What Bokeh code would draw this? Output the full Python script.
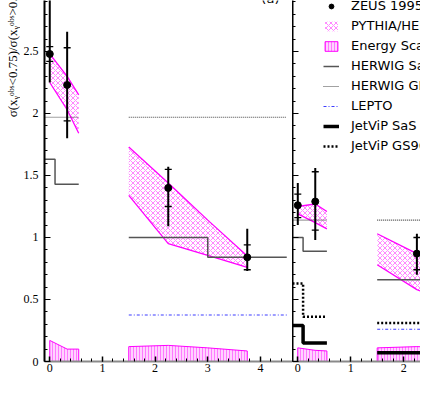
from bokeh.plotting import figure
from bokeh.layouts import row
from bokeh.models import Range1d, FixedTicker, Legend, LegendItem, Label
from bokeh.embed import file_html
from bokeh.resources import INLINE

# ---------------- data ----------------
x_ticks_a = [0, 1, 2, 3, 4]
x_tick_labels_a = ["0", "1", "2", "3", "4"]
x_ticks_b = [0, 1, 2]
x_tick_labels_b = ["0", "1", "2"]
y_ticks = [0, 0.5, 1, 1.5, 2, 2.5]
y_tick_labels = ["0", "0.5", "1", "1.5", "2", "2.5"]
y_title = "σ(xᵧᵒᵇˢ<0.75)/σ(xᵧᵒᵇˢ>0.75)"

# ZEUS 1995 points, panel (a)
zeus_x_a = [0.0, 0.33, 2.25, 3.75]
zeus_y_a = [2.48, 2.23, 1.40, 0.84]
zeus_stat_lo_a = [2.42, 1.94, 1.25, 0.74]
zeus_stat_hi_a = [2.54, 2.53, 1.55, 0.94]
zeus_tot_lo_a = [2.25, 1.80, 1.09, 0.73]
zeus_tot_hi_a = [3.20, 2.66, 1.57, 1.07]

# ZEUS 1995 points, panel (b)
zeus_x_b = [0.0, 0.33, 2.25]
zeus_y_b = [1.26, 1.29, 0.87]
zeus_stat_lo_b = [1.16, 1.06, 0.74]
zeus_stat_hi_b = [1.35, 1.53, 1.00]
zeus_tot_lo_b = [1.10, 0.98, 0.70]
zeus_tot_hi_b = [1.44, 1.56, 1.03]

# band abscissae
band_x1 = [0.0, 0.33, 0.55]
band_x2 = [1.5, 2.25, 3.0, 3.75]

# PYTHIA/HERWIG band
pythia_lo_a1 = [2.25, 2.03, 1.84]
pythia_hi_a1 = [2.48, 2.30, 2.15]
pythia_lo_a2 = [1.34, 0.95, 0.855, 0.76]
pythia_hi_a2 = [1.73, 1.44, 1.14, 0.85]
pythia_lo_b1 = [1.19, 1.12, 1.07]
pythia_hi_b1 = [1.25, 1.27, 1.21]
pythia_lo_b2 = [0.78, 0.58, 0.45, 0.35]
pythia_hi_b2 = [1.03, 0.87, 0.75, 0.65]

# energy scale uncertainty band
escale_a1 = [0.17, 0.10, 0.10]
escale_a2 = [0.12, 0.13, 0.11, 0.085]
escale_b1 = [0.11, 0.09, 0.085]
escale_b2 = [0.11, 0.12, 0.11, 0.10]

# histogram bin edges
bins1 = [-0.1, 0.1, 0.55]
bins2 = [1.5, 3.0, 4.5]

herwig_sas_a1 = [1.63, 1.43]
herwig_sas_a2 = [1.00, 0.84]
herwig_grv_a1 = [1.97, 1.97]
herwig_grv_a2 = [1.97, 1.97]
lepto_a2 = [0.375, 0.375]

herwig_sas_b1 = [1.00, 0.89]
herwig_sas_b2 = [0.66, 0.66]
herwig_grv_b1 = [1.14, 1.14]
herwig_grv_b2 = [1.14, 1.14]
lepto_b2 = [0.26, 0.26]
jetvip_sas_b1 = [0.29, 0.15]
jetvip_sas_b2 = [0.07, 0.07]
jetvip_gs96_b1 = [0.63, 0.36]
jetvip_gs96_b2 = [0.31, 0.31]

legend_labels = ["ZEUS 1995", "PYTHIA/HERWIG", "Energy Scale", "HERWIG SaS",
                 "HERWIG GRV", "LEPTO", "JetViP SaS", "JetViP GS96"]

# ---------------- layout ----------------
W_TOTAL = 420
H = 392
SX = W_TOTAL / 436.0
SY = H / 409.0
FRAME_H = round(377 * SY)
BOTTOM = H - FRAME_H
W_LAB = 20
LEFT_BORDER = round(44 * SX) - W_LAB
W1 = round(303 * SX) - W_LAB
W2 = W_TOTAL - W1 - W_LAB
Y_TOP = 377 / 129.5
XA_END = -0.1 + 259 / 55.0
XB_END = -0.1 + 133 / 55.0

SERIF = "Liberation Serif"
SANS = "DejaVu Sans"

MAG = "#ff00ff"


def make_fig(width, x_end, left_border, xt, xtl, show_ylabels):
    p = figure(width=width, height=H, x_range=Range1d(-0.1, x_end),
               y_range=Range1d(0, Y_TOP), output_backend="svg",
               toolbar_location=None, min_border_left=left_border,
               min_border_right=0, min_border_top=0, min_border_bottom=BOTTOM)
    p.grid.visible = False
    p.outline_line_color = None
    p.background_fill_color = "white"
    p.border_fill_color = "white"

    xa = p.xaxis[0]
    xa.ticker = FixedTicker(ticks=xt, minor_ticks=[round(0.2 * i - 0.2, 1) for i in range(30)])
    xa.major_label_overrides = {t: s for t, s in zip(xt, xtl)}
    xa.axis_line_color = "#8a8a8a"
    xa.axis_line_width = 2
    xa.major_tick_in = 5
    xa.major_tick_out = 0
    xa.minor_tick_in = 3
    xa.minor_tick_out = 0
    xa.major_tick_line_color = "black"
    xa.minor_tick_line_color = "black"
    xa.major_tick_line_width = 1.5
    xa.minor_tick_line_width = 1
    xa.major_label_text_font = SERIF
    xa.major_label_text_font_size = "12px"
    xa.major_label_standoff = 2
    xa.major_label_text_color = "black"

    ya = p.yaxis[0]
    ya.ticker = FixedTicker(ticks=y_ticks, minor_ticks=[round(0.1 * i, 1) for i in range(30)])
    ya.axis_line_color = "black"
    ya.axis_line_width = 2
    ya.major_tick_in = 6
    ya.major_tick_out = 0
    ya.minor_tick_in = 3
    ya.minor_tick_out = 0
    ya.major_tick_line_color = "black"
    ya.minor_tick_line_color = "black"
    ya.major_tick_line_width = 1.2
    ya.minor_tick_line_width = 1
    if show_ylabels:
        ya.major_label_overrides = {t: s for t, s in zip(y_ticks, y_tick_labels)}
        ya.major_label_text_font = SERIF
        ya.major_label_text_font_size = "12px"
        ya.major_label_standoff = 6
        ya.major_label_text_color = "black"
    else:
        ya.major_label_text_font_size = "1px"
        ya.major_label_text_color = None
        ya.major_label_standoff = 0
    return p


def step_xy(edges, vals):
    xs, ys = [], []
    for i, v in enumerate(vals):
        xs += [edges[i], edges[i + 1]]
        ys += [v, v]
    return xs, ys


def pythia_band(p, xs, lo, hi):
    r = p.varea(x=xs, y1=lo, y2=hi, fill_color="white", fill_alpha=0.0,
                hatch_pattern="diagonal_cross", hatch_color="#ff4dff",
                hatch_alpha=0.85, hatch_scale=5, hatch_weight=0.8)
    p.line(xs, hi, line_color=MAG, line_width=1.3)
    p.line(xs, lo, line_color=MAG, line_width=1.3)
    return r


def escale_band(p, xs, top):
    px = list(xs) + list(xs[::-1])
    py = list(top) + [0.0] * len(xs)
    return p.patch(px, py, fill_color="#ffc8ff", fill_alpha=0.8,
                   hatch_pattern="vertical_line", hatch_color="#ff33ff",
                   hatch_alpha=0.8, hatch_scale=3, hatch_weight=0.7,
                   line_color=MAG, line_width=1)


def hist(p, edges, vals, **kw):
    xs, ys = step_xy(edges, vals)
    return p.line(xs, ys, **kw)


SAS_KW = dict(line_color="#555555", line_width=1.5)
GRV_KW = dict(line_color="#444444", line_width=1.1, line_dash="1 1")
LEPTO_KW = dict(line_color="#3d3dff", line_width=1.1, line_dash="3 2 1 2")
JSAS_KW = dict(line_color="black", line_width=3.5)
JGS_KW = dict(line_color="black", line_width=2.5, line_dash="2 2")


def zeus(p, xs, ys, slo, shi, tlo, thi):
    p.segment(x0=xs, y0=tlo, x1=xs, y1=thi, line_color="black", line_width=2)
    p.scatter(x=list(xs) + list(xs), y=list(slo) + list(shi), marker="dash",
              size=7, line_color="black", line_width=1.3)
    return p.scatter(x=xs, y=ys, marker="circle", size=7, color="black")


# ---------------- y-title strip ----------------
p0 = figure(width=W_LAB, height=H, x_range=Range1d(0, W_LAB), y_range=Range1d(0, Y_TOP),
            output_backend="svg", toolbar_location=None, x_axis_location=None,
            y_axis_location=None, min_border_left=0, min_border_right=0,
            min_border_top=0, min_border_bottom=BOTTOM)
p0.grid.visible = False
p0.outline_line_color = None
p0.border_fill_color = "white"
p0.add_layout(Label(x=11.6, y=1.97, text=y_title, angle=90, angle_units="deg",
                    text_align="left", text_baseline="middle", text_font=SERIF,
                    text_font_size="13px", text_color="black"))

# ---------------- panel (a) ----------------
p1 = make_fig(W1, XA_END, LEFT_BORDER, x_ticks_a, x_tick_labels_a, True)
escale_band(p1, band_x1, escale_a1)
escale_band(p1, band_x2, escale_a2)
pythia_band(p1, band_x1, pythia_lo_a1, pythia_hi_a1)
pythia_band(p1, band_x2, pythia_lo_a2, pythia_hi_a2)
hist(p1, bins1, herwig_sas_a1, **SAS_KW)
hist(p1, bins2, herwig_sas_a2, **SAS_KW)
hist(p1, bins1, herwig_grv_a1, **GRV_KW)
hist(p1, bins2, herwig_grv_a2, **GRV_KW)
hist(p1, bins2, lepto_a2, **LEPTO_KW)
zeus(p1, zeus_x_a, zeus_y_a, zeus_stat_lo_a, zeus_stat_hi_a, zeus_tot_lo_a, zeus_tot_hi_a)

p1.add_layout(Label(x=4.19, y=2.925, text="(a)", text_align="center",
                    text_baseline="alphabetic", text_font=SANS,
                    text_font_size="13px", text_color="black"))

# ---------------- panel (b) ----------------
p2 = make_fig(W2, XB_END, 0, x_ticks_b, x_tick_labels_b, False)
r_es = escale_band(p2, band_x1, escale_b1)
escale_band(p2, band_x2, escale_b2)
r_py = pythia_band(p2, band_x1, pythia_lo_b1, pythia_hi_b1)
pythia_band(p2, band_x2, pythia_lo_b2, pythia_hi_b2)
r_sas = hist(p2, bins1, herwig_sas_b1, **SAS_KW)
hist(p2, bins2, herwig_sas_b2, **SAS_KW)
r_grv = hist(p2, bins1, herwig_grv_b1, **GRV_KW)
hist(p2, bins2, herwig_grv_b2, **GRV_KW)
r_lep = hist(p2, bins2, lepto_b2, **LEPTO_KW)
r_jsas = hist(p2, bins1, jetvip_sas_b1, **JSAS_KW)
hist(p2, bins2, jetvip_sas_b2, **JSAS_KW)
r_jgs = hist(p2, bins1, jetvip_gs96_b1, **JGS_KW)
hist(p2, bins2, jetvip_gs96_b2, **JGS_KW)
r_zeus = zeus(p2, zeus_x_b, zeus_y_b, zeus_stat_lo_b, zeus_stat_hi_b, zeus_tot_lo_b, zeus_tot_hi_b)

renderers = [r_zeus, r_py, r_es, r_sas, r_grv, r_lep, r_jsas, r_jgs]
legend = Legend(items=[LegendItem(label=lab, renderers=[r]) for lab, r in zip(legend_labels, renderers)],
                location=(31, FRAME_H - 153), glyph_width=16, glyph_height=12,
                label_height=12, spacing=5, label_standoff=12, padding=0, margin=0,
                border_line_alpha=0, background_fill_alpha=0,
                label_text_font=SANS, label_text_font_size="13px",
                label_text_color="black")
p2.add_layout(legend)

layout = row(p0, p1, p2)
open("out.html", "w").write(file_html(layout, INLINE))
